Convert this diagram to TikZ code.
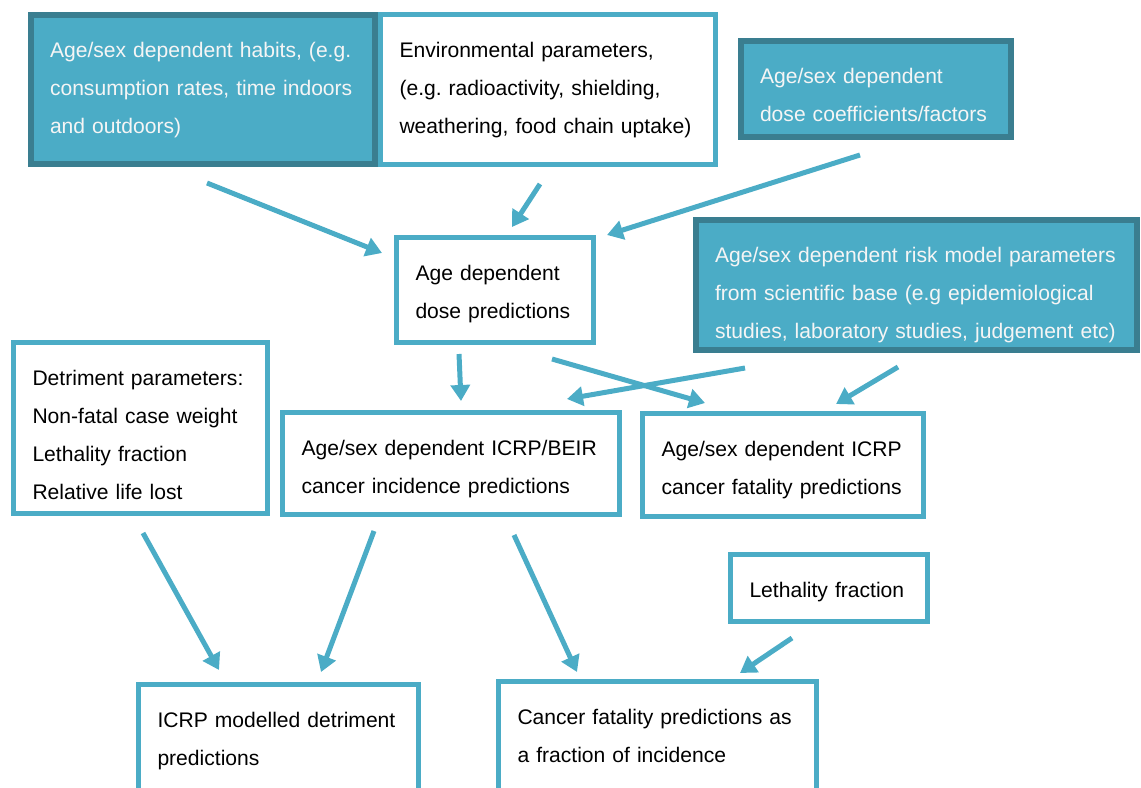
\documentclass[tikz,border=0pt]{standalone}
\usepackage{fontspec}
\setmainfont{Liberation Sans}
\usetikzlibrary{positioning, calc, arrows.meta}
\definecolor{aqua}{HTML}{4BACC6}
\definecolor{aquadark}{HTML}{3A7E90}
\newlength{\pxl}\setlength{\pxl}{0.02cm}
\frenchspacing

\begin{document}
\begin{tikzpicture}[
            x=0.02cm, y=-0.02cm,
            blk/.style={rectangle, anchor=north west, outer sep=0pt, inner xsep=19\pxl, inner ysep=2pt, align=left, font=\fontsize{12}{21.7}\selectfont},
            dims/.style 2 args={text width=#1\pxl, minimum height=#2\pxl, text height=39\pxl, text depth={#2\pxl-39\pxl-4pt}},
            inp/.style={blk, draw=aquadark, fill=aqua, line width=6\pxl, text=white!96!black},
            res/.style={blk, draw=aqua, fill=white, line width=5\pxl, text=black},
            flow/.style={-{Triangle[length=0.32cm, width=0.38cm]}, draw=aqua, line width=5\pxl}
        ]
            \useasboundingbox (0,0) rectangle (1141,787);

            % --- inputs ---
            \node[inp, dims={306}{149}] (habits) at (31,15)
              {Age/sex dependent habits, (e.g.\\ consumption rates, time indoors\\ and outdoors)};
            \node[res, dims={297}{150}] (env) at (380.5,14.5)
              {Environmental parameters,\\ (e.g. radioactivity, shielding,\\ weathering, food chain uptake)};
            \node[inp, dims={232}{96}] (coeff) at (741,41)
              {Age/sex dependent\\ dose coefficients/factors};
            \node[res, dims={159}{105}] (dose) at (396.5,237.5)
              {Age dependent\\ dose predictions};
            \node[inp, dims={403}{130}] (risk) at (696,220)
              {Age/sex dependent risk model parameters\\ from scientific base (e.g epidemiological\\ studies, laboratory studies, judgement etc)};

            % --- predictions ---
            \node[res, dims={216}{171}] (detr) at (13.5,342.5)
              {Detriment parameters:\\ Non-fatal case weight\\ Lethality fraction\\ Relative life lost};
            \node[res, dims={299}{102}] (incid) at (282.5,412.5)
              {Age/sex dependent ICRP/BEIR\\ cancer incidence predictions};
            \node[res, dims={243}{103}] (fatal) at (642.5,413.5)
              {Age/sex dependent ICRP\\ cancer fatality predictions};
            \node[res, dims={159}{67}] (leth) at (730.5,554.5)
              {Lethality fraction};
            \node[res, dims={242}{111}] (icrpdet) at (138.5,684.5)
              {ICRP modelled detriment\\ predictions};
            \node[res, dims={280}{115}] (frac) at (498.5,681.5)
              {Cancer fatality predictions as\\ a fraction of incidence};

            % --- arrows ---
            \draw[flow] ($(habits.south)+(4,19)$) -- ($(dose.north west)+(-14.5,15.5)$);
            \draw[flow] ($(env.south)+(-8,19.5)$) -- ($(dose.north)+(17,-10.5)$);
            \draw[flow] ($(coeff.south)+(-16,18)$) -- ($(dose.north east)+(13.5,-2.5)$);
            \draw[flow] ($(dose.south)+(-36,11.5)$) -- ($(incid.north)+(10,-11.5)$);
            \draw[flow] ($(dose.south)+(57,16.5)$) -- ($(fatal.north)+(-78,-10.5)$);
            \draw[flow] ($(risk.south west)+(49,18)$) -- ($(incid.north east)+(-52.5,-13.5)$);
            \draw[flow] ($(risk.south)+(-18.5,17)$) -- ($(fatal.north)+(53,-9.5)$);
            \draw[flow] ($(detr.south)+(2.5,19.5)$) -- ($(icrpdet.north)+(-59.5,-14.5)$);
            \draw[flow] ($(incid.south)+(-77,16.5)$) -- ($(icrpdet.north)+(42.5,-12.5)$);
            \draw[flow] ($(incid.south)+(63,20.5)$) -- ($(frac.north)+(-80.5,-9.5)$);
            \draw[flow] ($(leth.south)+(-37,16.5)$) -- ($(frac.north)+(82.5,-8.5)$);

        \end{tikzpicture}
\end{document}
